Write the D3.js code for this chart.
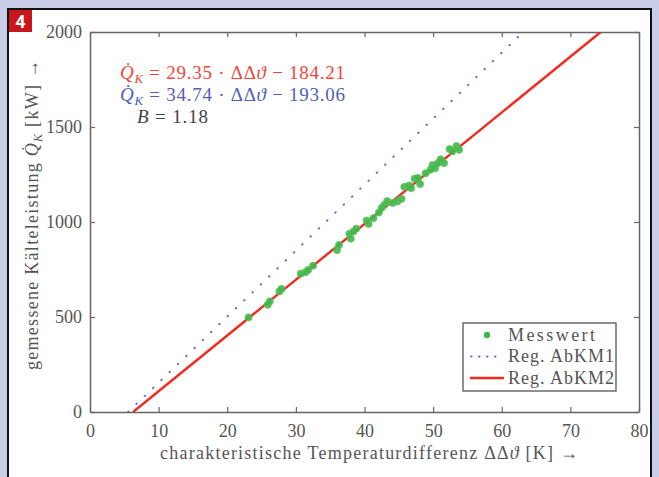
<!DOCTYPE html>
<html>
<head>
<meta charset="utf-8">
<script src="https://cdn.jsdelivr.net/npm/d3@7"></script>
<style>
  body { margin: 0; background: #c9cde8; }
  svg { display: block; }
</style>
</head>
<body>
<svg width="659" height="477"></svg>
<script>
"use strict";
const messDT = [23.1, 25.9, 26.2, 27.6, 27.9, 30.7, 31.4, 31.8, 32.5, 36.0, 36.3, 37.8, 38.0, 38.4, 38.8,
    40.3, 40.6, 41.3, 42.1, 42.5, 42.9, 43.3, 44.1, 44.8, 45.4, 45.8, 46.5, 46.8, 47.3, 47.8, 48.1,
    48.9, 49.6, 49.9, 50.3, 50.7, 51.1, 51.6, 52.4, 52.8, 53.4, 53.8];
const messQ = [498, 565, 582, 635, 648, 728, 736, 748, 770, 852, 880, 938, 912, 950, 965,
    1008, 990, 1020, 1050, 1075, 1090, 1110, 1100, 1108, 1122, 1185, 1192, 1178, 1228, 1232, 1200,
    1256, 1275, 1300, 1283, 1310, 1330, 1310, 1384, 1372, 1400, 1380];
// regression lines Q = a*dT + b
const regAbKM1 = [34.74, -193.06];
const regAbKM2 = [29.35, -184.21];
const xTicks = [0, 10, 20, 30, 40, 50, 60, 70, 80];
const yTicks = [0, 500, 1000, 1500, 2000];
const legendLabels = ["Messwert", "Reg. AbKM1", "Reg. AbKM2"];

const svg = d3.select("svg");
const serif = "'Liberation Serif', 'Times New Roman', serif";
const grey = "#555";

// white panel with black frame + badge
svg.append("rect").attr("x", 8).attr("y", 9).attr("width", 643).attr("height", 475)
    .attr("fill", "#fff").attr("stroke", "#111").attr("stroke-width", 2);
svg.append("rect").attr("x", 9).attr("y", 10).attr("width", 23).attr("height", 22).attr("fill", "#c8161e");
svg.append("text").attr("x", 20.5).attr("y", 28).attr("text-anchor", "middle")
    .attr("font-family", "Roboto, 'DejaVu Sans', sans-serif").attr("font-weight", "bold")
    .attr("font-size", 18).attr("fill", "#fff").text("4");

const pLeft = 90, pRight = 639, pTop = 32, pBottom = 412;
const x = d3.scaleLinear().domain([0, 80]).range([pLeft, pRight]);
const y = d3.scaleLinear().domain([0, 2000]).range([pBottom, pTop]);

const plot = svg.append("g");
plot.append("defs").append("clipPath").attr("id", "clip")
    .append("rect").attr("x", pLeft).attr("y", pTop).attr("width", pRight - pLeft).attr("height", pBottom - pTop);

function styleAxis(g, labels) {
    g.select(".domain").attr("stroke", "#666").attr("stroke-width", 1.5);
    g.selectAll(".tick line").attr("stroke", "#666").attr("stroke-width", 1.2);
    g.selectAll(".tick text").attr("font-family", serif).attr("font-size", 18).attr("fill", grey);
    if (!labels) g.selectAll(".tick text").remove();
}

plot.append("g").attr("transform", `translate(0,${pBottom})`)
    .call(d3.axisBottom(x).tickValues(xTicks).tickFormat(d3.format("d")).tickSizeInner(-5).tickSizeOuter(0).tickPadding(12))
    .call(g => styleAxis(g, true));
plot.append("g").attr("transform", `translate(0,${pTop})`)
    .call(d3.axisTop(x).tickValues(xTicks).tickSizeInner(-5).tickSizeOuter(0))
    .call(g => styleAxis(g, false));
plot.append("g").attr("transform", `translate(${pLeft},0)`)
    .call(d3.axisLeft(y).tickValues(yTicks).tickFormat(d3.format("d")).tickSizeInner(-5).tickSizeOuter(0).tickPadding(8))
    .call(g => styleAxis(g, true));
plot.append("g").attr("transform", `translate(${pRight},0)`)
    .call(d3.axisRight(y).tickValues(yTicks).tickSizeInner(-5).tickSizeOuter(0))
    .call(g => styleAxis(g, false));

// regression lines, from Q=0 to Q=2000
function regPoints(r) {
    return [0, 2000].map(q => [(q - r[1]) / r[0], q]);
}
const line = d3.line().x(d => x(d[0])).y(d => y(d[1]));
const lines = plot.append("g").attr("clip-path", "url(#clip)");
lines.append("path").datum(regPoints(regAbKM1)).attr("d", line)
    .attr("fill", "none").attr("stroke", "#4a55c0").attr("stroke-width", 2)
    .attr("stroke-linecap", "round").attr("stroke-dasharray", "0.5 11").attr("opacity", 0.85);

const pts = messDT.map((d, i) => [d, messQ[i]]);
plot.append("g").selectAll("circle").data(pts).join("circle")
    .attr("cx", d => x(d[0])).attr("cy", d => y(d[1])).attr("r", 3.6)
    .attr("fill", "#3fb84a").attr("stroke", "#5cc45f").attr("stroke-width", 0.8).attr("opacity", 0.9);

lines.append("path").datum(regPoints(regAbKM2)).attr("d", line)
    .attr("fill", "none").attr("stroke", "#f5281e").attr("stroke-width", 2.4);

// equations
function equation(yPos, color, coeffs) {
    const t = svg.append("text").attr("x", 120).attr("y", yPos)
        .attr("font-family", serif).attr("font-size", 19).attr("fill", color)
        .attr("textLength", 225).attr("lengthAdjust", "spacing");
    t.append("tspan").attr("font-style", "italic").text("Q\u0307");
    t.append("tspan").attr("font-style", "italic").attr("font-size", 13).attr("dy", 4).text("K");
    t.append("tspan").attr("dy", -4).text(` = ${coeffs[0].toFixed(2)} \u00b7 \u0394\u0394`);
    t.append("tspan").attr("font-style", "italic").text("\u03d1");
    t.append("tspan").text(` \u2212 ${Math.abs(coeffs[1]).toFixed(2)}`);
}
equation(79, "#f2453a", regAbKM2);
equation(101, "#4f5eb8", regAbKM1);
const bt = svg.append("text").attr("x", 137).attr("y", 123)
    .attr("font-family", serif).attr("font-size", 19).attr("fill", "#444")
    .attr("textLength", 71).attr("lengthAdjust", "spacing");
bt.append("tspan").attr("font-style", "italic").text("B");
bt.append("tspan").text(" = 1.18");

// axis titles
const xt = svg.append("text").attr("x", 160).attr("y", 459)
    .attr("font-family", serif).attr("font-size", 18).attr("fill", grey)
    .attr("textLength", 418).attr("lengthAdjust", "spacing");
xt.append("tspan").text("charakteristische Temperaturdifferenz \u0394\u0394");
xt.append("tspan").attr("font-style", "italic").text("\u03d1");
xt.append("tspan").text(" [K] \u2192");

const yt = svg.append("text").attr("transform", "translate(38,370) rotate(-90)")
    .attr("font-family", serif).attr("font-size", 18).attr("fill", grey)
    .attr("textLength", 310).attr("lengthAdjust", "spacing");
yt.append("tspan").text("gemessene K\u00e4lteleistung ");
yt.append("tspan").attr("font-style", "italic").text("Q\u0307");
yt.append("tspan").attr("font-style", "italic").attr("font-size", 12).attr("dy", 4).text("K");
yt.append("tspan").attr("dy", -4).text(" [kW] \u2192");

// legend
const lg = svg.append("g").attr("transform", "translate(463,323)");
lg.append("rect").attr("width", 153).attr("height", 68).attr("fill", "#fff")
    .attr("stroke", "#555").attr("stroke-width", 1.3);
legendLabels.forEach((lab, i) => {
    const yy = 12 + i * 21.5;
    if (i === 0) {
        lg.append("circle").attr("cx", 24).attr("cy", yy).attr("r", 3.2).attr("fill", "#3fb84a");
    } else if (i === 1) {
        lg.append("line").attr("x1", 8).attr("x2", 40).attr("y1", yy).attr("y2", yy)
            .attr("stroke", "#4a55c0").attr("stroke-width", 2).attr("stroke-linecap", "round")
            .attr("stroke-dasharray", "0.5 7.5").attr("opacity", 0.85);
    } else {
        lg.append("line").attr("x1", 7).attr("x2", 41).attr("y1", yy).attr("y2", yy)
            .attr("stroke", "#f5281e").attr("stroke-width", 2.4);
    }
    lg.append("text").attr("x", 45).attr("y", yy + 5.5).attr("font-family", serif)
        .attr("font-size", 18).attr("fill", grey).attr("textLength", 106).attr("lengthAdjust", "spacing")
        .text(lab);
});
// Messwert is shorter than the other labels
lg.selectAll("text").filter((d, i) => i === 0).attr("textLength", 87);
</script>
</body>
</html>
